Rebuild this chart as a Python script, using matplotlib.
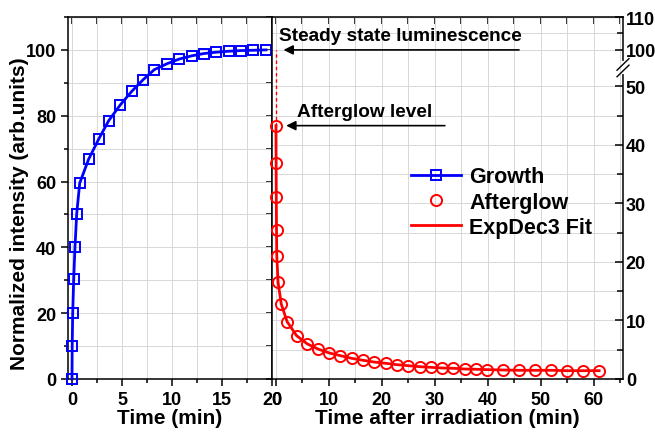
import numpy as np
import matplotlib
matplotlib.use('Agg')
import matplotlib.pyplot as plt
from matplotlib.lines import Line2D
from matplotlib.ticker import MultipleLocator, FixedLocator, NullFormatter

plt.rcParams['font.family'] = ['Liberation Sans', 'DejaVu Sans']
plt.rcParams['font.weight'] = 'bold'
plt.rcParams['axes.labelweight'] = 'bold'

# growth under irradiation (left panel)
t_growth = [0, 0.02, 0.07, 0.17, 0.3, 0.47, 0.77, 1.65, 2.67, 3.67, 4.83, 5.97,
            7.13, 8.23, 9.5, 10.7, 11.97, 13.2, 14.4, 15.67, 16.9, 18.13, 19.4]
i_growth = [0, 10, 20, 30.4, 40.2, 50.2, 59.5, 66.7, 72.9, 78.5, 83.3, 87.4,
            91.0, 94.0, 95.8, 97.2, 98.2, 98.9, 99.3, 99.6, 99.8, 99.9, 100]

# afterglow decay (right panel)
t_after = [0, 0.03, 0.06, 0.1, 0.15, 0.4, 1.0, 2.1, 3.9, 5.9, 8.0, 10.1, 12.1,
           14.3, 16.5, 18.5, 20.75, 22.8, 25.0, 27.2, 29.2, 31.3, 33.5, 35.6,
           37.7, 39.9, 42.9, 45.9, 48.9, 52.0, 55.0, 58.0, 61.0]
i_after = [43.3, 37.0, 31.1, 25.5, 21.1, 16.5, 12.8, 9.8, 7.4, 6.0, 5.1, 4.44,
           4.0, 3.53, 3.19, 2.9, 2.68, 2.45, 2.27, 2.1, 2.0, 1.88, 1.83, 1.71,
           1.66, 1.6, 1.54, 1.49, 1.49, 1.49, 1.42, 1.42, 1.42]

BLUE = '#0000ff'
RED = '#ff0000'
GRID = '#d8d8d8'

# broken right axis: 0-52 stretched, 97-110 kept 1:1
k = 1.778
lo, hi = 52.0, 97.0
def fwd(y):
    y = np.asarray(y, dtype=float)
    return np.where(y <= lo, y * k,
                    np.where(y < hi, lo * k + (y - lo) * (hi - lo * k) / (hi - lo), y))

def inv(d):
    d = np.asarray(d, dtype=float)
    return np.where(d <= lo * k, d / k,
                    np.where(d < hi, lo + (d - lo * k) * (hi - lo) / (hi - lo * k), d))

fig = plt.figure(figsize=(6.55, 4.39), dpi=100)
W, H = 655.0, 439.0
ax1 = fig.add_axes([68 / W, (H - 380) / H, 204 / W, 362 / H])
ax2 = fig.add_axes([272 / W, (H - 380) / H, 351 / W, 362 / H])

# ---- left panel ----
ax1.plot(t_growth, i_growth, color=BLUE, lw=2.0, marker='s', ms=7.5, mfc='none',
         mec=BLUE, mew=1.4, clip_on=False, zorder=5)
ax1.set_xlim(-0.4, 20)
ax1.set_ylim(0, 110)
ax1.xaxis.set_major_locator(MultipleLocator(5))
ax1.xaxis.set_minor_locator(MultipleLocator(2.5))
ax1.yaxis.set_major_locator(FixedLocator([0, 20, 40, 60, 80, 100]))
ax1.yaxis.set_minor_locator(FixedLocator([10, 30, 50, 70, 90, 110]))
ax1.tick_params(which='both', direction='out', labelsize=13, width=1.1)
ax1.tick_params(which='major', length=5)
ax1.tick_params(which='minor', length=3)
ax1.grid(True, which='both', color=GRID, lw=0.7)
ax1.set_axisbelow(True)
ax1.set_xlabel('Time (min)', fontsize=15, labelpad=0)
ax1.set_ylabel('Normalized intensity (arb.units)', fontsize=15)
ax1.yaxis.set_label_coords(-0.19, 0.46)

top1 = ax1.secondary_xaxis('top')
top1.xaxis.set_major_locator(MultipleLocator(2.5))
top1.tick_params(direction='in', length=5, width=1.1, labeltop=False)
right1 = ax1.secondary_yaxis('right')
right1.yaxis.set_major_locator(MultipleLocator(10))
right1.tick_params(direction='in', length=4, width=1.1, labelright=False)

# ---- right panel ----
ax2.set_yscale('function', functions=(fwd, inv))
ax2.plot(t_after, i_after, color=RED, lw=2.0, zorder=4, clip_on=False)
ax2.plot(t_after, i_after, ls='none', marker='o', ms=8, mfc='none', mec=RED,
         mew=1.4, zorder=5, clip_on=False)
ax2.plot([0.0, 0.0], [i_after[0], 100], color=RED, lw=1.0, ls=(0, (2.5, 2)), zorder=3)
ax2.set_xlim(-0.75, 65.5)
ax2.set_ylim(0, 110)
ax2.xaxis.set_major_locator(MultipleLocator(10))
ax2.xaxis.set_minor_locator(MultipleLocator(5))
ax2.yaxis.set_major_locator(FixedLocator([0, 10, 20, 30, 40, 50, 100, 110]))
ax2.yaxis.set_minor_locator(FixedLocator([5, 15, 25, 35, 45, 105]))
ax2.yaxis.set_minor_formatter(NullFormatter())
ax2.yaxis.tick_right()
ax2.tick_params(axis='x', which='both', direction='out', labelsize=13, width=1.1)
ax2.tick_params(axis='x', which='major', length=5)
ax2.tick_params(axis='x', which='minor', length=3)
ax2.tick_params(axis='y', which='both', direction='in', labelsize=13, width=1.1, pad=2)
ax2.tick_params(axis='y', which='major', length=6)
ax2.tick_params(axis='y', which='minor', length=4)
ax2.grid(True, which='both', color=GRID, lw=0.7)
ax2.set_axisbelow(True)
ax2.set_xlabel('Time after irradiation (min)', fontsize=15, labelpad=0)

top2 = ax2.secondary_xaxis('top')
top2.xaxis.set_major_locator(MultipleLocator(5))
top2.tick_params(direction='in', length=5, width=1.1, labeltop=False)

for ax in (ax1, ax2):
    for s in ax.spines.values():
        s.set_linewidth(1.1)

# break marks on the right spine
yb = 0.86
ax2.plot([1.0, 1.0], [yb - 0.012, yb + 0.012], color='white', lw=3,
         transform=ax2.transAxes, clip_on=False, zorder=10)
for dy in (-0.009, 0.009):
    ax2.plot([0.983, 1.017], [yb + dy - 0.016, yb + dy + 0.016], color='k', lw=1.0,
             transform=ax2.transAxes, clip_on=False, zorder=11)

# annotations
ax2.annotate('', xy=(0.9, 100), xytext=(46.4, 100),
             arrowprops=dict(arrowstyle='-|>', color='k', lw=1.2, mutation_scale=14))
ax2.text(0.6, 104.4, 'Steady state luminescence', fontsize=13.7, va='center', ha='left')
ax2.annotate('', xy=(1.4, i_after[0]), xytext=(32.4, i_after[0]),
             arrowprops=dict(arrowstyle='-|>', color='k', lw=1.2, mutation_scale=14))
ax2.text(4.0, 45.7, 'Afterglow level', fontsize=13.7, va='center', ha='left')

handles = [Line2D([], [], color=BLUE, lw=2.0, marker='s', ms=7.5, mfc='none', mec=BLUE, mew=1.4),
           Line2D([], [], ls='none', marker='o', ms=8, mfc='none', mec=RED, mew=1.4),
           Line2D([], [], color=RED, lw=2.0)]
fig.legend(handles, ['Growth', 'Afterglow', 'ExpDec3 Fit'], loc='center left',
           bbox_to_anchor=(411 / W, 1 - 203 / H), frameon=False, fontsize=15.5,
           handlelength=2.3, handletextpad=0.4, labelspacing=0.2, borderpad=0,
           borderaxespad=0)

fig.savefig('out.png', dpi=100)
